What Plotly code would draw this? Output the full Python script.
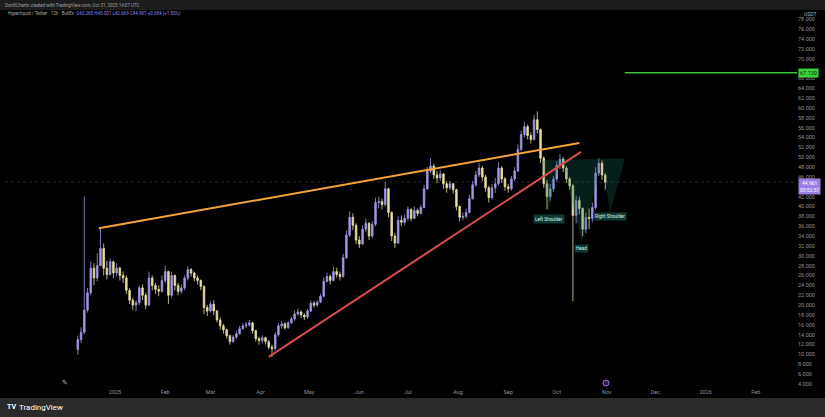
import pandas as pd
import plotly.graph_objects as go

# ---- data (2-day candles, HYPE / USDT) ----
first_open = 11.0
close = [13.0, 14.5, 19.0, 22.5, 27.5, 25.5, 28.0, 31.5, 27.5, 26.2,
         28.8, 26.5, 27.5, 26.0, 25.5, 23.0, 21.0, 20.0, 20.5, 23.5,
         22.0, 20.0, 25.5, 24.0, 23.2, 22.8, 25.0, 26.8, 22.0, 26.0,
         24.0, 22.8, 23.5, 25.5, 27.2, 26.5, 25.5, 25.0, 23.8, 19.5,
         18.8, 20.2, 18.8, 17.0, 15.8, 15.0, 13.8, 12.6, 13.5, 14.2,
         15.2, 15.8, 16.0, 16.4, 14.8, 13.2, 12.8, 13.4, 12.6, 11.5,
         11.2, 14.0, 15.8, 16.2, 15.4, 16.4, 17.2, 18.2, 18.6, 18.0,
         17.6, 18.8, 20.4, 20.0, 20.6, 21.8, 24.8, 25.8, 25.0, 26.8,
         26.2, 25.8, 29.6, 34.2, 37.8, 36.2, 33.2, 32.4, 35.4, 36.6,
         34.0, 36.4, 40.8, 41.0, 40.4, 43.6, 38.8, 34.0, 32.6, 37.2,
         36.8, 37.6, 39.4, 37.6, 39.2, 38.6, 39.8, 43.6, 47.2, 48.2,
         46.4, 45.8, 46.6, 44.6, 43.8, 44.6, 43.4, 40.0, 37.8, 38.0,
         38.8, 41.6, 44.4, 46.4, 47.8, 46.0, 43.8, 41.8, 43.8, 44.6,
         47.8, 45.6, 44.0, 43.6, 45.6, 47.2, 51.6, 54.6, 56.2, 54.4,
         53.6, 57.6, 55.6, 49.8, 44.6, 42.0, 43.6, 45.6, 48.4, 49.6,
         47.8, 45.6, 44.2, 38.2, 41.2, 39.6, 35.4, 37.8, 37.6, 39.8,
         46.8, 48.8, 46.4, 44.96]
high = [13.8, 15.5, 42.0, 23.5, 28.8, 28.5, 30.5, 35.6, 32.5, 29.0,
        29.5, 29.0, 28.5, 27.8, 26.8, 26.0, 23.5, 21.5, 21.0, 24.0,
        24.2, 22.5, 26.8, 26.0, 24.5, 24.0, 26.0, 28.0, 27.0, 26.8,
        26.2, 24.5, 24.2, 26.0, 27.9, 27.5, 26.8, 26.0, 25.2, 24.0,
        20.0, 20.8, 21.0, 19.0, 17.5, 16.2, 15.2, 14.0, 13.9, 14.8,
        15.8, 16.3, 16.6, 17.0, 16.6, 15.0, 13.6, 13.9, 13.6, 12.9,
        12.0, 14.5, 16.4, 16.8, 16.5, 16.8, 17.6, 18.9, 19.3, 18.9,
        18.3, 19.2, 20.9, 20.8, 21.0, 22.3, 25.6, 26.6, 26.2, 27.8,
        27.6, 26.8, 30.4, 35.2, 39.0, 38.6, 36.6, 34.0, 36.2, 37.6,
        36.8, 37.0, 41.8, 42.0, 41.6, 45.0, 43.8, 39.0, 34.6, 38.0,
        38.2, 38.4, 40.0, 39.6, 40.0, 39.6, 40.4, 44.4, 48.0, 49.8,
        48.6, 47.2, 47.4, 46.8, 45.2, 45.2, 44.8, 43.6, 40.2, 38.8,
        39.6, 42.4, 45.2, 47.2, 48.8, 48.2, 46.4, 44.2, 44.6, 45.8,
        49.0, 48.2, 46.0, 44.6, 46.2, 48.0, 52.6, 55.4, 57.2, 56.6,
        55.0, 58.6, 59.3, 55.8, 50.2, 45.4, 44.6, 46.2, 49.2, 50.6,
        50.0, 48.2, 46.0, 44.6, 42.2, 42.0, 39.8, 38.8, 39.6, 40.8,
        48.0, 49.8, 49.4, 46.8]
low = [9.9, 12.3, 14.0, 18.5, 22.0, 24.0, 24.8, 28.0, 26.0, 25.2,
       26.0, 25.5, 25.8, 25.0, 24.5, 22.2, 20.2, 19.0, 18.8, 20.0,
       21.0, 19.2, 19.8, 23.0, 22.3, 21.8, 22.5, 24.5, 20.2, 21.5,
       23.0, 22.0, 22.3, 23.0, 25.0, 25.8, 24.8, 24.2, 23.0, 18.2,
       17.8, 18.5, 18.0, 16.5, 15.0, 14.2, 13.2, 12.0, 12.3, 13.2,
       14.0, 15.0, 15.3, 15.6, 14.2, 12.6, 12.0, 12.2, 12.0, 11.0,
       9.5, 10.8, 13.6, 15.2, 15.0, 15.2, 16.2, 16.8, 17.8, 17.4,
       17.0, 17.2, 18.6, 19.5, 19.6, 20.4, 21.6, 24.6, 24.2, 24.8,
       25.6, 25.0, 25.6, 29.4, 33.8, 35.2, 32.4, 31.6, 32.2, 34.8,
       33.2, 33.6, 36.0, 39.6, 39.4, 40.0, 37.8, 33.0, 31.6, 32.4,
       36.0, 36.2, 37.2, 37.0, 37.4, 38.0, 38.4, 39.6, 43.4, 46.8,
       45.6, 44.8, 45.2, 43.6, 42.8, 43.4, 42.6, 39.2, 37.0, 37.2,
       37.6, 38.6, 41.4, 44.0, 46.0, 45.2, 43.0, 40.8, 41.4, 42.8,
       44.2, 44.8, 43.2, 42.8, 43.2, 45.2, 47.0, 51.2, 54.0, 53.6,
       52.8, 53.4, 54.8, 48.8, 43.8, 39.4, 41.2, 43.0, 45.0, 47.6,
       47.0, 44.8, 43.4, 20.8, 36.6, 38.4, 34.0, 34.6, 35.4, 36.8,
       39.4, 46.2, 45.4, 43.4]
dates = pd.date_range("2024-12-09", periods=len(close), freq="2D")
opens = [first_open] + close[:-1]

# drawings
wedge_top = (["2024-12-22", "2025-10-15"], [35.6, 52.9])
wedge_bottom = (["2025-04-06", "2025-10-16"], [9.5, 51.1])
target_level = 67.13
target_start = "2025-11-12"
hs_dates = ["2025-09-21 22:00", "2025-09-25 14:00", "2025-10-03 14:00", "2025-10-16 14:00",
            "2025-10-29", "2025-11-02 22:00", "2025-11-12 05:00"]
hs_prices = [49.4, 38.7, 50.0, 32.6, 49.8, 38.7, 49.8]
hs_labels = [("Left Shoulder", "2025-09-26", 37.4), ("Head", "2025-10-16 14:00", 31.5),
             ("Right Shoulder", "2025-11-03", 37.9)]
last_price = 44.961
ytick_vals = [v for v in range(4, 80, 2) if v not in (44, 68)]
month_ticks = ["2025-01-01", "2025-02-01", "2025-03-01", "2025-04-01", "2025-05-01", "2025-06-01",
               "2025-07-01", "2025-08-01", "2025-09-01", "2025-10-01", "2025-11-01", "2025-12-01",
               "2026-01-01", "2026-02-01"]
month_text = ["2025", "Feb", "Mar", "Apr", "May", "Jun", "Jul", "Aug", "Sep", "Oct", "Nov", "Dec",
              "2026", "Feb"]

W, H = 825, 417
ML, MR, MT, MB = 5, 28, 10, 30
PW, PH = W - ML - MR, H - MT - MB


def px(p):
    return (p - ML) / PW


def py(p):
    return (H - MB - p) / PH


UP, DOWN = "#a297ea", "#e6df9c"
AX = "#8f9199"

fig = go.Figure()
fig.add_trace(go.Candlestick(
    x=dates, open=opens, high=high, low=low, close=close,
    increasing=dict(line=dict(color=UP, width=0.8), fillcolor=UP),
    decreasing=dict(line=dict(color=DOWN, width=0.8), fillcolor=DOWN),
    whiskerwidth=0, hoverinfo="skip", showlegend=False))

fig.add_trace(go.Scatter(
    x=hs_dates + [hs_dates[0]], y=hs_prices + [hs_prices[0]], mode="lines",
    fill="toself", fillcolor="rgba(20,110,95,0.28)", line=dict(width=0),
    hoverinfo="skip", showlegend=False))

fig.add_trace(go.Scatter(x=wedge_top[0], y=wedge_top[1], mode="lines",
                         line=dict(color="#f3a43a", width=2), hoverinfo="skip", showlegend=False))
fig.add_trace(go.Scatter(x=wedge_bottom[0], y=wedge_bottom[1], mode="lines",
                         line=dict(color="#d94c4c", width=2), hoverinfo="skip", showlegend=False))
fig.add_trace(go.Scatter(x=[target_start, "2026-02-27"], y=[target_level, target_level], mode="lines",
                         line=dict(color="#3cc23c", width=1.5), hoverinfo="skip", showlegend=False))

shapes = [
    dict(type="line", xref="paper", yref="y", x0=0, x1=1, y0=last_price, y1=last_price,
         line=dict(color="rgba(150,150,170,0.28)", width=1, dash="dot"), layer="below"),
    dict(type="rect", xref="paper", yref="paper", x0=px(0), x1=px(W), y0=py(0), y1=py(MT),
         fillcolor="#1c1c1c", line=dict(width=0), layer="below"),
    dict(type="rect", xref="paper", yref="paper", x0=px(0), x1=px(W), y0=py(398), y1=py(H),
         fillcolor="#2a2a2a", line=dict(width=0), layer="below"),
    dict(type="circle", xref="paper", yref="paper", x0=px(603), x1=px(609), y0=py(380), y1=py(386),
         fillcolor="rgba(150,90,200,0.35)", line=dict(color="#a070e0", width=1)),
]

ann = []
for text, xd, yv in hs_labels:
    ann.append(dict(x=xd, y=yv, xref="x", yref="y", text=text, showarrow=False,
                    font=dict(size=4.6, color="#d8efe9", family="Roboto"),
                    bgcolor="#0f3a33", borderpad=1))
ann += [
    dict(x=px(3), y=py(5), xref="paper", yref="paper", xanchor="left", yanchor="middle",
         text="DonXCharts created with TradingView.com, Oct 31, 2025 14:07 UTC", showarrow=False,
         font=dict(size=4.5, color="#a0a0a0", family="Roboto")),
    dict(x=px(6), y=py(14), xref="paper", yref="paper", xanchor="left", yanchor="middle",
         text="Hyperliquid / Tether · 12h · BullEx  <span style='color:#8f86e6'>O43.265 H45.001 L42.669 C44.961 +0.684 (+1.55%)</span>",
         showarrow=False, font=dict(size=4.5, color="#a8a8a8", family="Roboto")),
    dict(x=px(810), y=py(14), xref="paper", yref="paper", xanchor="center", yanchor="middle",
         text="USDT", showarrow=False, font=dict(size=5, color="#b0b0b0", family="Roboto")),
    dict(x=1, y=target_level, xref="paper", yref="y", xanchor="left", yanchor="middle", xshift=1,
         text="67.130", showarrow=False, font=dict(size=5.5, color="#0b2a0b", family="Roboto"),
         bgcolor="#3ad33a", borderpad=1),
    dict(x=1, y=last_price - 0.9, xref="paper", yref="y", xanchor="left", yanchor="middle", xshift=1,
         text="44.961<br>09:52:51", showarrow=False, font=dict(size=5, color="#ffffff", family="Roboto"),
         bgcolor="#9a7ee8", borderpad=1),
    dict(x=px(5), y=py(407), xref="paper", yref="paper", xanchor="left", yanchor="middle",
         text="<b>TV</b>", showarrow=False, font=dict(size=7, color="#ffffff", family="Roboto")),
    dict(x=px(17), y=py(407), xref="paper", yref="paper", xanchor="left", yanchor="middle",
         text="TradingView", showarrow=False, font=dict(size=8, color="#ffffff", family="Roboto")),
    dict(x=px(65), y=py(383), xref="paper", yref="paper", xanchor="center", yanchor="middle",
         text="✎", showarrow=False, font=dict(size=7, color="#bbbbbb", family="DejaVu Sans")),
]

fig.update_layout(
    width=W, height=H, margin=dict(l=ML, r=MR, t=MT, b=MB),
    paper_bgcolor="#000000", plot_bgcolor="#000000",
    shapes=shapes, annotations=ann, showlegend=False, hovermode=False,
    xaxis=dict(range=["2024-10-25", "2026-02-26 12:00"], rangeslider=dict(visible=False),
               tickvals=month_ticks, ticktext=month_text, showgrid=False, zeroline=False,
               showline=False, ticks="", tickfont=dict(size=5.5, color=AX, family="Roboto")),
    yaxis=dict(range=[3.39, 79.86], side="right", tickvals=ytick_vals,
               ticktext=[f"{v:.3f}" for v in ytick_vals], showgrid=False, zeroline=False,
               showline=False, ticks="", tickfont=dict(size=5.5, color=AX, family="Roboto")),
)

fig.write_html("out.html", config={"displayModeBar": False})

# remove the browser's default page margin so the figure sits at the window's corner
with open("out.html", encoding="utf-8") as f:
    page = f.read()
page = page.replace("<head>", "<head><style>html,body{margin:0;padding:0;overflow:hidden;background:#000}</style>", 1)
with open("out.html", "w", encoding="utf-8") as f:
    f.write(page)
